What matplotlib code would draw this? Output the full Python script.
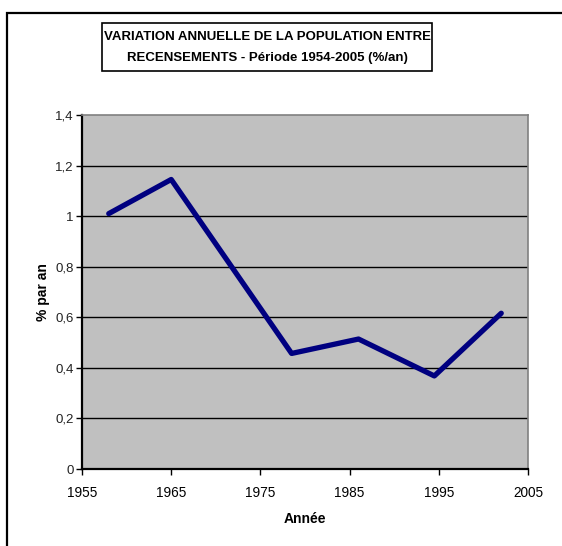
import matplotlib
matplotlib.use("Agg")
import matplotlib.pyplot as plt
from matplotlib.patches import Rectangle

years = [1958, 1965, 1978.5, 1986, 1994.5, 2002]
values = [1.01, 1.145, 0.457, 0.514, 0.368, 0.616]
xticks = [1955, 1965, 1975, 1985, 1995, 2005]
yticks = [0, 0.2, 0.4, 0.6, 0.8, 1.0, 1.2, 1.4]
ytick_labels = ["0", "0,2", "0,4", "0,6", "0,8", "1", "1,2", "1,4"]
title = "VARIATION ANNUELLE DE LA POPULATION ENTRE\nRECENSEMENTS - Période 1954-2005 (%/an)"

plt.rcParams['font.family'] = ['Liberation Sans', 'DejaVu Sans']

W, H = 562, 546
fig = plt.figure(figsize=(W/100, H/100), dpi=100)

def fx(px): return px / W
def fy(py): return 1 - py / H

# outer frame
fig.patches.append(Rectangle((fx(7), fy(600)), fx(700) - fx(7), fy(13) - fy(600),
                             transform=fig.transFigure, fill=False, ec='black', lw=1.6, clip_on=False))

ax = fig.add_axes([fx(82), fy(469), fx(528) - fx(82), fy(115) - fy(469)])
ax.set_facecolor('#C0C0C0')
ax.plot(years, values, color='#000080', lw=3.8, solid_joinstyle='round', solid_capstyle='round', zorder=3)
ax.set_xlim(1955, 2005)
ax.set_ylim(0, 1.4)
ax.set_xticks(xticks)
ax.set_xticklabels([str(x) for x in xticks], fontsize=9.8)
ax.set_yticks(yticks)
ax.set_yticklabels(ytick_labels, fontsize=9.5, color='#222222')
for y in yticks[1:-1]:
    ax.axhline(y, color='black', lw=1.0, zorder=1)
ax.tick_params(axis='both', direction='out', length=4, width=1, color='black')
ax.tick_params(axis='y', pad=2)
ax.tick_params(axis='x', pad=8)
for s in ['left', 'bottom']:
    ax.spines[s].set_color('black')
    ax.spines[s].set_linewidth(1.6)
for s in ['top', 'right']:
    ax.spines[s].set_color('#808080')
    ax.spines[s].set_linewidth(1.2)
ax.set_xlabel("Année", fontsize=10, fontweight='bold')
ax.set_ylabel("% par an", fontsize=10, fontweight='bold')
ax.xaxis.set_label_coords((305 - 82) / 446, (469 - 519) / 354)
ax.yaxis.set_label_coords((42.5 - 82) / 446, 0.5)
ax.xaxis.label.set_va('center')
ax.yaxis.label.set_va('center')

# title box
fig.patches.append(Rectangle((fx(102), fy(71)), fx(432) - fx(102), fy(23) - fy(71),
                             transform=fig.transFigure, fill=False, ec='black', lw=1.2))
fig.text(fx(267), fy(47.5), title, ha='center', va='center', fontsize=9.5, fontweight='bold',
         linespacing=1.95)

fig.savefig("out.png", dpi=100)
